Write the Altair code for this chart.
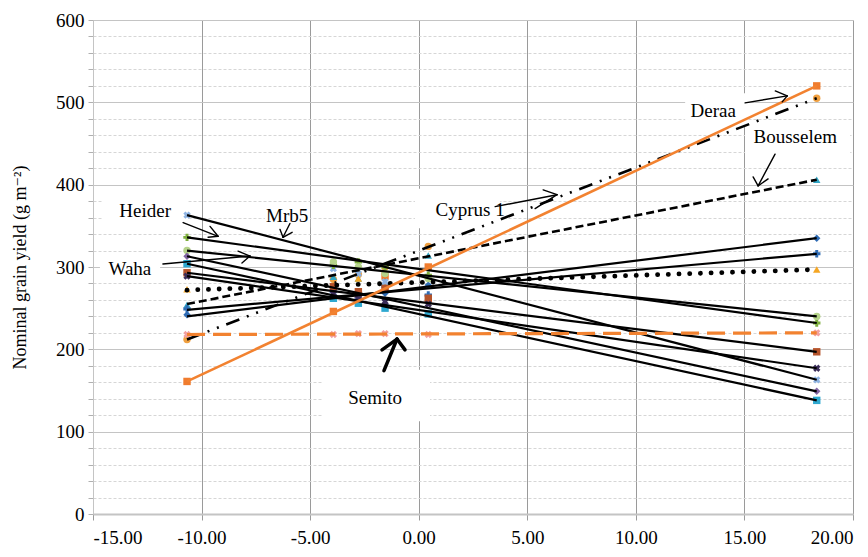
import altair as alt
import pandas as pd

# ---------------- data ----------------
env_index = [-10.67, -3.93, -2.78, -1.55, 0.44, 18.33]

genotypes = ["Deraa", "Cyprus 1", "Bousselem", "G4", "G5", "G6", "Semito",
             "Mrb5", "Heider", "Waha", "G11", "G12", "G13", "G14"]
# regression line values at first / last environment
line_start = [161, 212, 255, 240, 248, 272, 218, 363, 336, 320, 313, 304, 293, 289]
line_end = [520, 505, 406, 335, 316, 297, 220, 163, 232, 240, 149, 138, 197, 177]
# observed yields at each environment
observed = [
    [161, 246, 266, 289, 300, 520],
    [212, 285, 291, 300, 325, 505],
    [254, 288, 286, 282, 314, 406],
    [242, 265, 270, 268, 278, 335],
    [249, 270, 262, 276, 266, 316],
    [273, 278, 286, 276, 290, 297],
    [218, 218, 219, 219, 218, 220],
    [363, 298, 292, 282, 262, 163],
    [336, 302, 306, 300, 290, 232],
    [320, 306, 300, 292, 286, 240],
    [313, 270, 263, 255, 258, 149],
    [304, 262, 256, 250, 243, 138],
    [293, 276, 270, 274, 262, 197],
    [289, 268, 262, 258, 255, 177],
]

# styles (kept apart from values)
line_style = ["orange", "dashdot", "dashed", "solid", "solid", "dotted", "semito",
              "solid", "solid", "solid", "solid", "solid", "solid", "solid"]
marker_color = ["#F07C2E", "#F0A040", "#31A5C4", "#2F6CB5", "#2F6CB5", "#F5A623", "#F2A0A0",
                "#8FB4E3", "#7FAF3F", "#B5D38A", "#8064A2", "#2EA8D0", "#B5532A", "#3B2E5A"]
marker_shape = ["square", "circle", "triangle-up", "diamond", "cross", "triangle-up", "cross",
                "cross", "cross", "circle", "diamond", "square", "square", "cross"]
marker_angle = [0, 0, 0, 0, 0, 0, 45, 45, 0, 0, 0, 0, 0, 45]

# annotations
labels = ["Heider", "Mrb5", "Waha", "Cyprus 1", "Deraa", "Bousselem", "Semito"]
label_x = [-12.6, -6.06, -13.3, 2.37, 13.56, 17.34, -2.01]
label_y = [368.5, 362.5, 297.7, 369.7, 489.8, 457.4, 140.5]

box_x = [-4.45, -0.17, 12.27, 15.03, -14.68, -14.54, -7.08]
box_x2 = [0.52, 3.75, 15.03, 19.87, -11.91, -10.62, -5.0]
box_y = [175.3, 395, 511, 475, 310.9, 383, 377]
box_y2 = [112.8, 347, 470.6, 437, 283.3, 353, 348]

arrows = [  # x, y, x2, y2, width
    (-10.85, 354, -9.24, 337.3, 1.4), (-9.61, 349.3, -9.24, 337.3, 1.4), (-9.70, 336.1, -9.24, 337.3, 1.4),
    (-5.93, 352.9, -6.25, 336.1, 1.4), (-6.39, 345.7, -6.25, 336.1, 1.4), (-5.83, 342.1, -6.25, 336.1, 1.4),
    (-11.78, 303.7, -7.77, 313.3, 1.4), (-8.32, 319.3, -7.77, 313.3, 1.4), (-8.14, 304.9, -7.77, 313.3, 1.4),
    (3.52, 373.3, 6.37, 387.8, 1.4), (5.36, 370.9, 6.37, 387.8, 1.4), (5.73, 393.7, 6.37, 387.8, 1.4),
    (15.03, 499.4, 16.97, 507.8, 1.4), (16.42, 513.8, 16.97, 507.8, 1.4), (16.74, 500.6, 16.97, 507.8, 1.4),
    (16.41, 437, 15.63, 398.6, 1.4), (15.4, 409.4, 15.63, 398.6, 1.4), (16.09, 407, 15.63, 398.6, 1.4),
    (-1.6, 174.1, -1.0, 212.5, 3.5), (-1.69, 199.3, -1.0, 212.5, 3.5), (-0.63, 199.3, -1.0, 212.5, 3.5),
]

# ---------------- tables ----------------
line_rows = []
for i, g in enumerate(genotypes):
    line_rows.append({"g": g, "x": env_index[0], "y": line_start[i], "style": line_style[i]})
    line_rows.append({"g": g, "x": env_index[-1], "y": line_end[i], "style": line_style[i]})
lines_df = pd.DataFrame(line_rows)

pt_rows = []
for i, g in enumerate(genotypes):
    for e, v in zip(env_index, observed[i]):
        pt_rows.append({"g": g, "x": e, "y": v, "color": marker_color[i],
                        "shape": marker_shape[i], "angle": marker_angle[i]})
pts_df = pd.DataFrame(pt_rows)

text_df = pd.DataFrame({"label": labels, "x": label_x, "y": label_y})
box_df = pd.DataFrame({"x": box_x, "x2": box_x2, "y": box_y, "y2": box_y2})
arrow_df = pd.DataFrame(arrows, columns=["x", "y", "x2", "y2", "w"])

# ---------------- encodings ----------------
FONT = "Times New Roman, Liberation Serif, DejaVu Serif, serif"
is100 = "datum.value % 100 === 0"

X = alt.X("x:Q", scale=alt.Scale(domain=[-15, 20], nice=False, zero=False),
          axis=alt.Axis(values=list(range(-15, 21, 5)), format=".2f",
                        labelExpr="replace(datum.label, '\u2212', '-')", title=None,
                        grid=True, gridColor="#9a9a9a", gridWidth=1,
                        tickColor="#9a9a9a", tickSize=6, domainColor="#c4c4c4", domainWidth=2,
                        labelFont=FONT, labelFontSize=19, labelColor="black", labelPadding=8))
Y = alt.Y("y:Q", scale=alt.Scale(domain=[0, 600], nice=False),
          axis=alt.Axis(values=list(range(0, 601, 20)),
                        labelExpr="datum.value % 100 === 0 ? datum.label : ''",
                        grid=True,
                        gridDash={"condition": {"test": is100, "value": []}, "value": [3, 2]},
                        gridColor={"condition": {"test": is100, "value": "#c4c4c4"}, "value": "#d6d6d6"},
                        tickColor="#b0b0b0", tickSize=5, domainColor="#c4c4c4",
                        labelFont=FONT, labelFontSize=19, labelColor="black", labelPadding=4,
                        title="Nominal grain yield (g m⁻²)", titleFont=FONT, titleFontSize=18,
                        titleFontWeight="normal", titleColor="black", titlePadding=26))

boxes = alt.Chart(box_df).mark_rect(color="white").encode(x=X, x2="x2:Q", y=Y, y2="y2:Q")

base_line = alt.Chart(lines_df)


def line_layer(style, **kw):
    return base_line.transform_filter(alt.datum.style == style).mark_line(**kw).encode(
        x=X, y=Y, detail="g:N")


solid = line_layer("solid", color="black", strokeWidth=2.2)
dashed = line_layer("dashed", color="black", strokeWidth=2.6, strokeDash=[8, 4])
dotted = line_layer("dotted", color="black", strokeWidth=4.8, strokeDash=[0.1, 10.6], strokeCap="round")
dashdot = line_layer("dashdot", color="black", strokeWidth=2.6, strokeDash=[14, 8, 2, 8, 2, 8])
semito = line_layer("semito", color="#F28230", strokeWidth=3.2, strokeDash=[18, 8])
orange = line_layer("orange", color="#F28230", strokeWidth=2.6)

points = alt.Chart(pts_df).mark_point(filled=True, size=55, opacity=1).encode(
    x=X, y=Y,
    color=alt.Color("color:N", scale=None),
    shape=alt.Shape("shape:N", scale=None),
    angle=alt.Angle("angle:Q", scale=None),
)

arrow_layer = alt.Chart(arrow_df).mark_rule(color="black", strokeCap="round").encode(
    x=X, x2="x2:Q", y=Y, y2="y2:Q", strokeWidth=alt.StrokeWidth("w:Q", scale=None))

texts = alt.Chart(text_df).mark_text(font=FONT, fontSize=19, color="black",
                                     align="center", baseline="middle").encode(
    x=X, y=Y, text="label:N")

chart = alt.layer(boxes, points, solid, dashed, dotted, dashdot, semito, orange,
                  arrow_layer, texts).properties(
    width=760, height=494,
    autosize=alt.AutoSizeParams(type="none"),
    padding={"left": 85, "top": 12, "right": 7, "bottom": 35},
).configure_view(stroke=None).configure(background="white")

chart.save("out.html", embed_options={"renderer": "svg", "actions": False})
